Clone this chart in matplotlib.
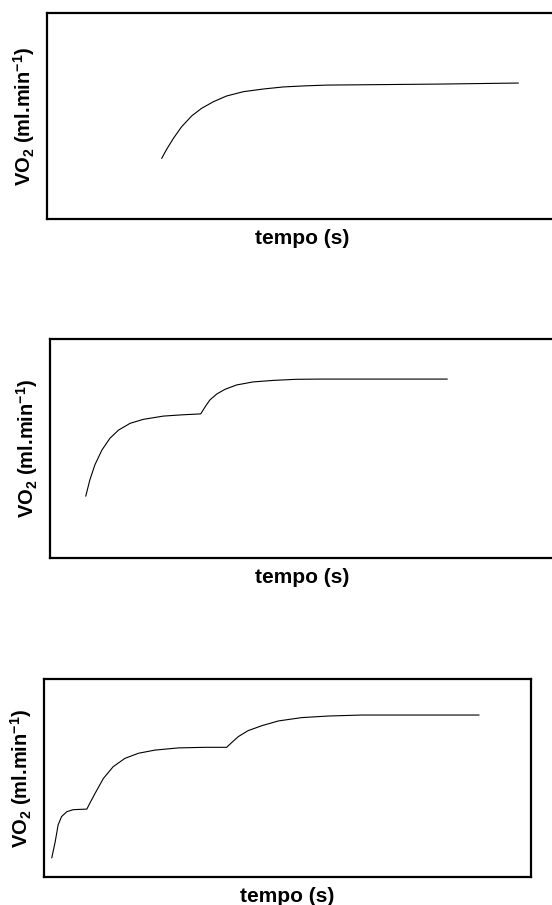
import matplotlib
matplotlib.use("Agg")
import matplotlib.pyplot as plt

plt.rcParams["font.family"] = ["Liberation Sans", "DejaVu Sans"]
plt.rcParams["font.weight"] = "bold"
plt.rcParams["mathtext.fontset"] = "custom"
plt.rcParams["mathtext.rm"] = "Liberation Sans"
plt.rcParams["mathtext.bf"] = "Liberation Sans:bold"
plt.rcParams["mathtext.default"] = "bf"

# values (arbitrary units, axis spans 0-100)
t_one = [22.5, 23.5, 24.8, 26.4, 28.4, 30.3, 32.6, 35.2, 38.5, 42.4, 46.3, 50.3,
         54.8, 77.1, 92.4]
vo2_one = [29.5, 34.0, 39.2, 44.8, 50.1, 53.7, 56.9, 59.7, 61.8, 63.1, 64.1, 64.6,
           65.0, 65.5, 66.0]

t_two = [7.1, 7.9, 8.9, 10.3, 11.9, 13.6, 15.9, 18.5, 22.5, 26.4, 29.9, 30.8,
         31.7, 33.1, 34.7, 37.0, 40.3, 44.3, 48.9, 53.6, 78.8]
vo2_two = [28.3, 35.6, 42.5, 49.3, 54.7, 58.4, 61.5, 63.3, 64.8, 65.4, 65.8, 69.1,
           72.1, 74.9, 77.0, 79.0, 80.4, 81.1, 81.6, 81.7, 81.7]

t_three = [1.6, 2.3, 2.9, 3.6, 4.7, 6.0, 8.8, 9.4, 10.5, 12.2, 14.2, 16.6, 19.4,
           22.8, 27.6, 33.1, 37.5, 38.5, 39.9, 41.9, 44.7, 48.1, 52.9, 58.4, 65.2, 89.3]
vo2_three = [9.7, 17.8, 26.3, 30.5, 33.0, 34.0, 34.3, 37.2, 42.3, 49.8, 55.7, 59.9,
             62.5, 64.1, 65.2, 65.5, 65.5, 67.8, 70.9, 73.9, 76.4, 78.8, 80.5, 81.3,
             81.8, 81.8]

xlabel = "tempo (s)"
ylabel = r"VO$_2$ (ml.min$^{-1}$)"

W, H = 552, 905
# axes boxes in pixels: left, right, top, bottom
boxes = [(47, 557, 13, 219), (50, 554, 339, 558), (44, 531, 679, 877)]
series = [(t_one, vo2_one), (t_two, vo2_two), (t_three, vo2_three)]

fig = plt.figure(figsize=(W / 100, H / 100), dpi=100)

for (l, r, t, b), (x, y) in zip(boxes, series):
    ax = fig.add_axes([l / W, (H - b) / H, (r - l) / W, (b - t) / H])
    ax.plot(x, y, color="black", lw=0.8, solid_joinstyle="round")
    ax.set_xlim(0, 100)
    ax.set_ylim(0, 100)
    ax.set_xticks([])
    ax.set_yticks([])
    for s in ax.spines.values():
        s.set_linewidth(1.6)
    ax.set_xlabel(xlabel, fontsize=15, fontweight="bold", labelpad=7)
    ax.set_ylabel(ylabel, fontsize=14.5, fontweight="bold", labelpad=7)

fig.savefig("out.png", dpi=100)
